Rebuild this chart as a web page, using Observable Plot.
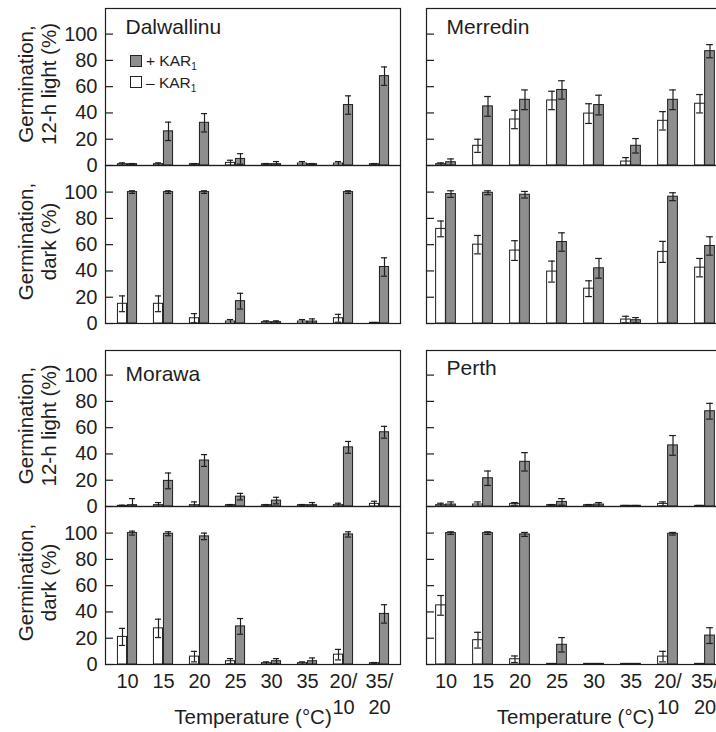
<!DOCTYPE html>
<html>
<head>
<meta charset="utf-8">
<script src="https://cdn.jsdelivr.net/npm/d3@7"></script>
<script src="https://cdn.jsdelivr.net/npm/@observablehq/plot@0.6"></script>
<style>
  html, body { margin: 0; padding: 0; background: #fff; }
  #chart { position: relative; width: 716px; height: 732px; overflow: hidden;
           font-family: "Liberation Sans", Arial, Helvetica, sans-serif; color: #1e1e1e; }
  #chart svg { position: absolute; overflow: visible; }
  .legend { position: absolute; font-size: 15.5px; line-height: 1; z-index: 5; }
  .legend .row { display: flex; align-items: center; height: 21.5px; white-space: nowrap; }
  .legend .sw { display: inline-block; width: 12px; height: 12px; box-sizing: border-box;
                border: 1px solid #222; margin-right: 4px; }
  .legend .lab { display: inline-block; }
  .legend sub { font-size: 10px; vertical-align: -4px; line-height: 0; }
</style>
</head>
<body>
<div id="chart"></div>
<script>
// ---------- categories / tick labels ----------
const categories = ["10", "15", "20", "25", "30", "35", "20/10", "35/20"];
const xTickLabels = ["10", "15", "20", "25", "30", "35", "20/\n10", "35/\n20"];
const yTicks = [0, 20, 40, 60, 80, 100];
const siteNames = ["Dalwallinu", "Merredin", "Morawa", "Perth"];
const xTitle = "Temperature (°C)";
const lightTitle = "Germination,\n12-h light (%)";
const darkTitle = "Germination,\ndark (%)";
const legendLabels = ["+ KAR", "– KAR"];

// ---------- Dalwallinu ----------
const dalLightMinus    = [1, 1, 1, 2, 1, 1.5, 1.5, 1];
const dalLightMinusErr = [1, 1, 0.5, 2, 0.5, 1.5, 1.5, 0.5];
const dalLightPlus     = [1, 26, 32.5, 5, 1, 1, 46, 68];
const dalLightPlusErr  = [0.5, 7, 7, 4, 2, 0.5, 7, 7];
const dalDarkMinus     = [15, 15, 4, 1.5, 1, 1.5, 4, 0.5];
const dalDarkMinusErr  = [6, 6, 3.5, 1.5, 1, 1.5, 3, 0.3];
const dalDarkPlus      = [100, 100, 100, 17, 1, 1.5, 100, 43];
const dalDarkPlusErr   = [1, 1, 1, 6, 1, 2, 1, 7];

// ---------- Merredin ----------
const merLightMinus    = [1, 15, 35, 49.5, 39.5, 3, 34, 47];
const merLightMinusErr = [1, 5, 7, 7, 7.5, 3, 7, 7];
const merLightPlus     = [2.5, 45, 50, 57.5, 46, 15, 50, 87];
const merLightPlusErr  = [2.5, 7.5, 7.5, 7, 7.5, 5.5, 7.5, 5];
const merDarkMinus     = [72, 60, 55.5, 39.5, 26.5, 3, 54.5, 42.5];
const merDarkMinusErr  = [6, 7, 7.5, 8, 6, 2.5, 8, 7];
const merDarkPlus      = [98.5, 99.5, 98, 62, 42, 2.5, 96.5, 59];
const merDarkPlusErr   = [2.5, 1.5, 2.5, 7, 7.5, 2, 3, 7];

// ---------- Morawa ----------
const morLightMinus    = [0.5, 1, 1, 1, 1, 1, 1, 2];
const morLightMinusErr = [0.5, 2, 2.5, 0.5, 0.5, 0.5, 1.5, 2];
const morLightPlus     = [1, 19.5, 35, 7.5, 4.5, 1, 45, 56.5];
const morLightPlusErr  = [5, 6, 4.5, 2.5, 2.5, 2, 4.5, 4.5];
const morDarkMinus     = [21, 27.5, 6, 2.5, 1, 1, 7.5, 1];
const morDarkMinusErr  = [6.5, 7, 4, 2, 1, 1, 4, 0.5];
const morDarkPlus      = [100, 99.5, 97.5, 29, 2.5, 2.5, 99, 38.5];
const morDarkPlusErr   = [1.5, 1.5, 2.5, 6, 2, 2.5, 2, 7];

// ---------- Perth ----------
const perLightMinus    = [1, 1.5, 2, 1, 1, 0.5, 2, 0.5];
const perLightMinusErr = [1.5, 2, 1, 0.5, 0.5, 0.3, 1.5, 0.3];
const perLightPlus     = [1.5, 21.5, 34, 3.5, 1.5, 0.5, 46.5, 72.5];
const perLightPlusErr  = [2, 5.5, 7, 2.5, 1.5, 0.3, 7.5, 6];
const perDarkMinus     = [45, 18.5, 4, 0.5, 0.5, 0.5, 6, 0.5];
const perDarkMinusErr  = [7.5, 6, 2.5, 0, 0, 0, 4, 0];
const perDarkPlus      = [100, 100, 99, 15, 0.5, 0.5, 99.5, 22];
const perDarkPlusErr   = [1, 1, 1.5, 5.5, 0, 0, 1, 6];

// ---------- layout / style ----------
const INK = "#1e1e1e";
const GREY = "#8e8e8e";
const FONT = "'Liberation Sans', Arial, Helvetica, sans-serif";
const BAR = 10, CAP = 7, PX100 = 131.4;
const cols = [{left: 105, right: 400}, {left: 426, right: 724}];
const groups = [{top: 8, mid: 165, bottom: 323}, {top: 350, mid: 506, bottom: 664}];
const titleBaselines = [33, 33, 380, 374];

const siteData = [
  {light: [dalLightMinus, dalLightMinusErr, dalLightPlus, dalLightPlusErr], dark: [dalDarkMinus, dalDarkMinusErr, dalDarkPlus, dalDarkPlusErr]},
  {light: [merLightMinus, merLightMinusErr, merLightPlus, merLightPlusErr], dark: [merDarkMinus, merDarkMinusErr, merDarkPlus, merDarkPlusErr]},
  {light: [morLightMinus, morLightMinusErr, morLightPlus, morLightPlusErr], dark: [morDarkMinus, morDarkMinusErr, morDarkPlus, morDarkPlusErr]},
  {light: [perLightMinus, perLightMinusErr, perLightPlus, perLightPlusErr], dark: [perDarkMinus, perDarkMinusErr, perDarkPlus, perDarkPlusErr]}
];

const chart = document.getElementById("chart");

function makePanel(o) {
  const mL = 10, mR = 10, mT = 10, mB = o.xAxis ? 80 : 10;
  const innerW = o.right - o.left, innerH = o.bottom - o.top;
  const bw = innerW / categories.length;
  const [minus, minusErr, plus, plusErr] = o.series;
  const rows = categories.map((c, i) => ({cat: c, minus: minus[i], minusErr: minusErr[i], plus: plus[i], plusErr: plusErr[i]}));
  const yBase = mT + innerH;
  const marks = [
    Plot.tickY(yTicks, {y: d => d, insetRight: innerW - 8, stroke: INK, strokeWidth: 1.2}),
    Plot.barY(rows, {x: "cat", y: "minus", fill: "white", stroke: INK, strokeWidth: 1,
                     insetLeft: bw / 2 - BAR, insetRight: bw / 2}),
    Plot.barY(rows, {x: "cat", y: "plus", fill: GREY, stroke: INK, strokeWidth: 1,
                     insetLeft: bw / 2, insetRight: bw / 2 - BAR}),
    // error bars (- KAR1)
    Plot.ruleX(rows.filter(d => d.minusErr > 0), {x: "cat", y1: d => Math.max(0, d.minus - d.minusErr), y2: d => d.minus + d.minusErr,
                     dx: -BAR / 2, stroke: INK, strokeWidth: 1.2}),
    Plot.tickY(rows.filter(d => d.minusErr > 0), {x: "cat", y: d => d.minus + d.minusErr, stroke: INK, strokeWidth: 1.2,
                     insetLeft: bw / 2 - BAR / 2 - CAP / 2, insetRight: bw / 2 + BAR / 2 - CAP / 2}),
    Plot.tickY(rows.filter(d => d.minusErr > 0 && d.minus - d.minusErr > 0), {x: "cat", y: d => d.minus - d.minusErr, stroke: INK, strokeWidth: 1.2,
                     insetLeft: bw / 2 - BAR / 2 - CAP / 2, insetRight: bw / 2 + BAR / 2 - CAP / 2}),
    // error bars (+ KAR1)
    Plot.ruleX(rows.filter(d => d.plusErr > 0), {x: "cat", y1: d => Math.max(0, d.plus - d.plusErr), y2: d => d.plus + d.plusErr,
                     dx: BAR / 2, stroke: INK, strokeWidth: 1.2}),
    Plot.tickY(rows.filter(d => d.plusErr > 0), {x: "cat", y: d => d.plus + d.plusErr, stroke: INK, strokeWidth: 1.2,
                     insetLeft: bw / 2 + BAR / 2 - CAP / 2, insetRight: bw / 2 - BAR / 2 - CAP / 2}),
    Plot.tickY(rows.filter(d => d.plusErr > 0 && d.plus - d.plusErr > 0), {x: "cat", y: d => d.plus - d.plusErr, stroke: INK, strokeWidth: 1.2,
                     insetLeft: bw / 2 + BAR / 2 - CAP / 2, insetRight: bw / 2 - BAR / 2 - CAP / 2}),
    Plot.frame({stroke: INK, strokeWidth: 1.2})
  ];
  if (o.yLabels) {
    marks.push(Plot.axisY(yTicks, {tickSize: 0, tickPadding: 8, fontSize: 20, label: null, fill: INK}));
    marks.push(Plot.text([o.yTitle], {frameAnchor: "left", text: d => d, rotate: -90, textAnchor: "middle",
                     lineAnchor: "middle", lineHeight: 1.15, dx: -68.5, dy: -3, fontSize: 20.5, fill: INK}));
  }
  if (o.title) {
    marks.push(Plot.text([o.title], {frameAnchor: "top-left", text: d => d, textAnchor: "start", lineAnchor: "bottom",
                     dx: 20, dy: o.titleBaseline - o.top, fontSize: 21, fill: INK}));
  }
  if (o.xAxis) {
    marks.push(Plot.axisX({tickSize: 0, tickPadding: 5, fontSize: 20, lineHeight: 1.3, label: null, fill: INK,
                     tickFormat: d => xTickLabels[categories.indexOf(d)]}));
    marks.push(Plot.text([xTitle], {frameAnchor: "bottom", text: d => d, lineAnchor: "bottom", dy: 59, fontSize: 20.5, fill: INK}));
  }
  const svg = Plot.plot({
    width: innerW + mL + mR,
    height: innerH + mT + mB,
    marginLeft: mL, marginRight: mR, marginTop: mT, marginBottom: mB,
    x: {domain: categories, padding: 0, axis: null},
    y: {domain: [0, 100], range: [yBase, yBase - PX100], axis: null},
    style: {fontFamily: FONT, fontSize: "20px", color: INK, background: "transparent", overflow: "visible"},
    marks
  });
  svg.style.position = "absolute";
  svg.style.left = (o.left - mL) + "px";
  svg.style.top = (o.top - mT) + "px";
  svg.style.maxWidth = "none";
  chart.appendChild(svg);
}

siteNames.forEach((name, s) => {
  const col = cols[s % 2], grp = groups[Math.floor(s / 2)];
  makePanel({left: col.left, right: col.right, top: grp.top, bottom: grp.mid,
             series: siteData[s].light, yLabels: s % 2 === 0, yTitle: lightTitle,
             title: name, titleBaseline: titleBaselines[s], xAxis: false});
  makePanel({left: col.left, right: col.right, top: grp.mid, bottom: grp.bottom,
             series: siteData[s].dark, yLabels: s % 2 === 0, yTitle: darkTitle,
             xAxis: Math.floor(s / 2) === 1});
});

// legend (inside the Dalwallinu light panel)
const legend = document.createElement("div");
legend.className = "legend";
legend.style.left = "130px";
legend.style.top = "50px";
[[GREY, legendLabels[0]], ["white", legendLabels[1]]].forEach(([fill, label]) => {
  const row = document.createElement("div");
  row.className = "row";
  const sw = document.createElement("span");
  sw.className = "sw";
  sw.style.background = fill;
  row.appendChild(sw);
  const lab = document.createElement("span");
  lab.className = "lab";
  lab.appendChild(document.createTextNode(label));
  const sub = document.createElement("sub");
  sub.textContent = "1";
  lab.appendChild(sub);
  row.appendChild(lab);
  legend.appendChild(row);
});
chart.appendChild(legend);
</script>
</body>
</html>
